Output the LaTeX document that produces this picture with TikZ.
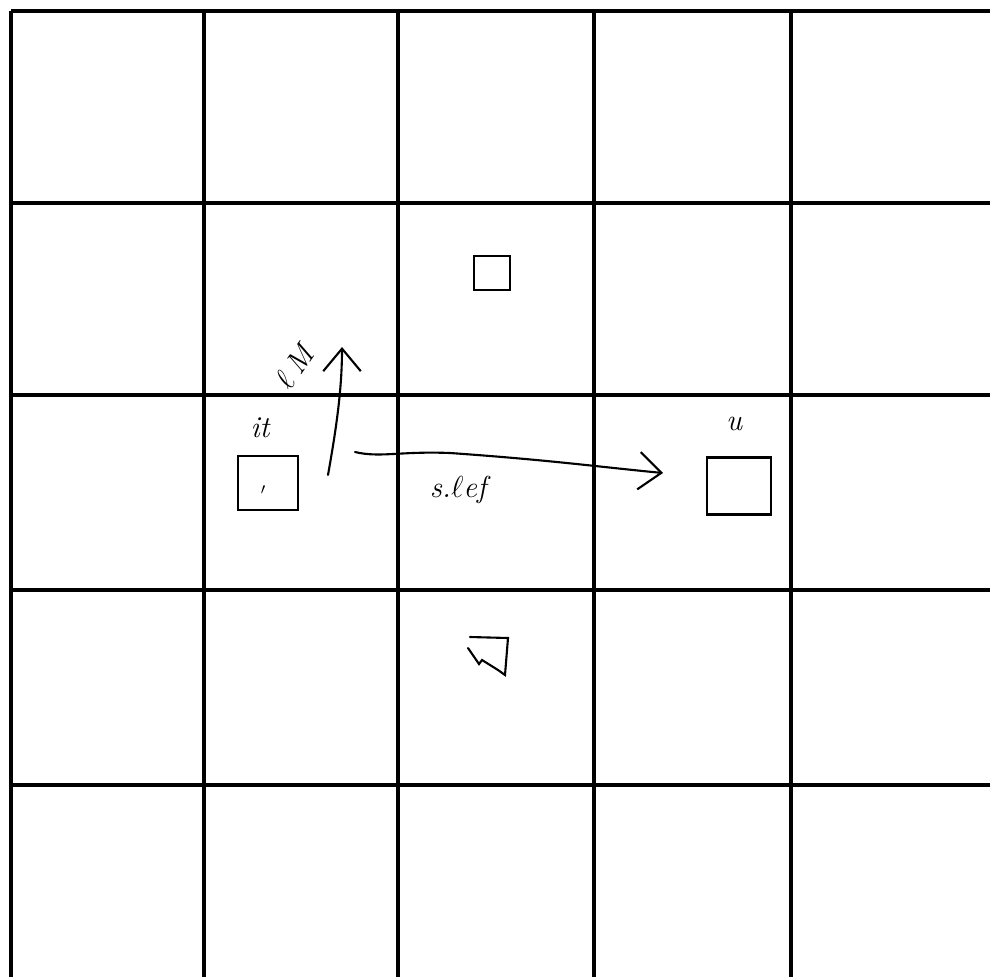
\documentclass[tikz,border=0pt]{standalone}
\usepackage{tikz}
\usepackage{xcolor}
\usetikzlibrary{positioning,arrows.meta}
\definecolor{ink}{HTML}{000000}
\definecolor{paper}{HTML}{FFFFFF}

\begin{document}
\begin{tikzpicture}[
  x=0.02cm, y=-0.02cm,
  gridline/.style={draw=ink, line width=2.2pt},
  cellbox/.style={
    rectangle, draw=ink, line width=1.2pt,
    fill=paper, inner sep=0pt
  },
  stroke/.style={draw=ink, line width=1.2pt, line cap=round},
  move/.style={stroke, -{Straight Barb[length=4.5mm,width=7.5mm,line width=1.2pt]}},
  scrawl/.style={font=\LARGE\itshape, color=ink, inner sep=1pt}
]

% Page
\useasboundingbox[fill=paper] (0,0) rectangle (990,977);

% Grid (open on the right and at the bottom)
\foreach \gx in {11,204,398,594,791} {
  \draw[gridline] (\gx,11) -- (\gx,977);
}
\foreach \gy in {11,203,395,590,785} {
  \draw[gridline] (11,\gy) -- (990,\gy);
}

% Squares
\node[cellbox, minimum width=1.2cm, minimum height=1.08cm] (here) at (268,483) {};
\node[cellbox, minimum width=1.28cm, minimum height=1.14cm] (goal) at (739,486) {};
\node[cellbox, minimum width=0.72cm, minimum height=0.68cm] (above) at (492,273) {};
\node[font=\small, color=ink, inner sep=0pt] (dot) at (263,490) {$\prime$};

% Cell below (rough shape)
\draw[stroke] (470,637) -- (508,638) -- (505,675) -- (498,670) -- (482,660)
  -- (479,664) -- (468,648);

% Labels
\node[scrawl] (itlab) at (260,428) {it};
\node[scrawl] (ulab) at (734,424) {u};
\node[scrawl, rotate=55] (uplab) at (294,367) {$\ell$\,M};
\node[scrawl] (rightlab) at (458,490) {s.$\ell$ef};

% Moves
\coordinate (upfrom) at (328,475);
\coordinate (upto) at (342,347);
\coordinate (rtfrom) at (355,452);
\coordinate (rtmid) at (450,453);
\coordinate (rtto) at (663,473);

\draw[move] (upfrom) .. controls (336,430) and (342,390) .. (upto);
\draw[stroke] (rtfrom) .. controls (380,458) and (400,451) .. (rtmid);
\draw[move] (rtmid) .. controls (550,460) and (600,467) .. (rtto);

\end{tikzpicture}
\end{document}
